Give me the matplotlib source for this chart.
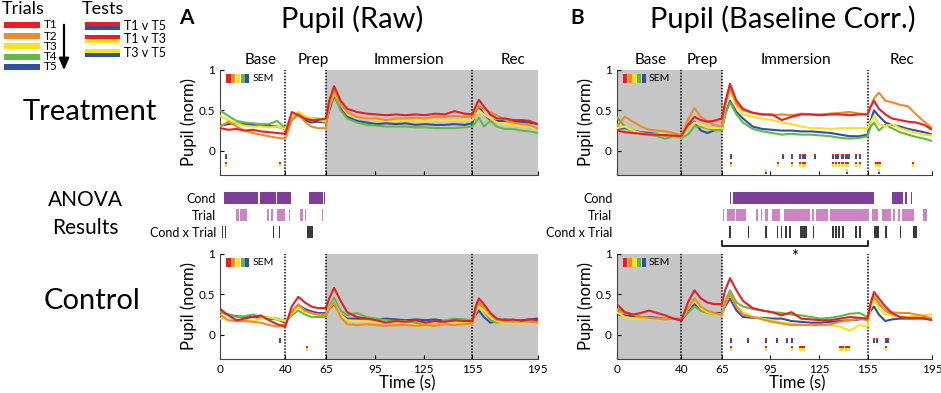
import matplotlib
matplotlib.use("Agg")
import matplotlib.pyplot as plt
from matplotlib.patches import Rectangle

plt.rcParams['font.family'] = ['Lato', 'DejaVu Sans']

# ---- data ----
t = [0, 5, 10, 15, 20, 25, 30, 35, 40,
     44, 48, 52, 56, 60, 65,
     67, 70, 74, 78, 84, 90, 96, 102, 108, 114, 120, 126, 132, 138, 144, 150, 155,
     157, 159, 162, 166, 170, 175, 180, 185, 190, 195]

trial_names = ["T1", "T2", "T3", "T4", "T5"]
trial_colors = ["#ec1c24", "#f08a24", "#f9e11b", "#5fba46", "#2e4fa3"]

# Treatment, raw
treat_raw = [
    [0.28, 0.26, 0.27, 0.25, 0.26, 0.24, 0.23, 0.22, 0.21,
     0.48, 0.44, 0.40, 0.38, 0.38, 0.40,
     0.62, 0.80, 0.62, 0.52, 0.48, 0.46, 0.45, 0.44, 0.45, 0.44, 0.45, 0.44, 0.46, 0.45, 0.49, 0.46, 0.45,
     0.55, 0.63, 0.55, 0.45, 0.40, 0.40, 0.38, 0.38, 0.37, 0.33],
    [0.30, 0.36, 0.30, 0.25, 0.22, 0.20, 0.18, 0.16, 0.15,
     0.38, 0.46, 0.36, 0.30, 0.28, 0.28,
     0.55, 0.75, 0.58, 0.48, 0.42, 0.40, 0.40, 0.38, 0.40, 0.40, 0.41, 0.40, 0.42, 0.42, 0.43, 0.42, 0.42,
     0.50, 0.55, 0.52, 0.48, 0.44, 0.38, 0.35, 0.33, 0.32, 0.28],
    [0.43, 0.38, 0.34, 0.31, 0.30, 0.30, 0.29, 0.30, 0.27,
     0.42, 0.48, 0.43, 0.40, 0.38, 0.36,
     0.55, 0.72, 0.58, 0.46, 0.42, 0.40, 0.38, 0.37, 0.37, 0.38, 0.37, 0.36, 0.38, 0.37, 0.38, 0.38, 0.38,
     0.45, 0.50, 0.45, 0.40, 0.35, 0.33, 0.33, 0.30, 0.30, 0.27],
    [0.50, 0.43, 0.37, 0.35, 0.34, 0.33, 0.33, 0.37, 0.28,
     0.40, 0.45, 0.43, 0.40, 0.40, 0.37,
     0.52, 0.70, 0.50, 0.40, 0.35, 0.32, 0.31, 0.30, 0.30, 0.30, 0.29, 0.29, 0.28, 0.28, 0.28, 0.29, 0.30,
     0.35, 0.41, 0.30, 0.37, 0.30, 0.27, 0.27, 0.25, 0.24, 0.22],
    [0.31, 0.33, 0.34, 0.33, 0.32, 0.32, 0.31, 0.30, 0.27,
     0.38, 0.45, 0.38, 0.35, 0.36, 0.35,
     0.50, 0.68, 0.52, 0.42, 0.37, 0.35, 0.33, 0.34, 0.33, 0.34, 0.32, 0.33, 0.32, 0.32, 0.33, 0.32, 0.34,
     0.48, 0.55, 0.45, 0.38, 0.37, 0.37, 0.36, 0.36, 0.35, 0.33],
]

# Control, raw
ctrl_raw = [
    [0.32, 0.24, 0.18, 0.20, 0.22, 0.24, 0.18, 0.13, 0.10,
     0.35, 0.47, 0.40, 0.35, 0.33, 0.33,
     0.45, 0.58, 0.42, 0.28, 0.22, 0.20, 0.18, 0.15, 0.17, 0.16, 0.18, 0.15, 0.17, 0.16, 0.18, 0.17, 0.17,
     0.35, 0.45, 0.38, 0.27, 0.20, 0.18, 0.19, 0.17, 0.19, 0.18],
    [0.25, 0.18, 0.17, 0.17, 0.16, 0.15, 0.12, 0.10, 0.13,
     0.28, 0.38, 0.30, 0.27, 0.25, 0.24,
     0.32, 0.40, 0.22, 0.13, 0.12, 0.13, 0.12, 0.11, 0.12, 0.12, 0.11, 0.12, 0.11, 0.13, 0.12, 0.13, 0.14,
     0.30, 0.40, 0.35, 0.25, 0.18, 0.17, 0.16, 0.17, 0.16, 0.15],
    [0.20, 0.18, 0.17, 0.17, 0.17, 0.20, 0.22, 0.19, 0.17,
     0.26, 0.34, 0.28, 0.26, 0.25, 0.25,
     0.33, 0.40, 0.25, 0.18, 0.17, 0.17, 0.16, 0.16, 0.15, 0.14, 0.12, 0.10, 0.13, 0.12, 0.14, 0.15, 0.13,
     0.28, 0.35, 0.30, 0.22, 0.17, 0.15, 0.15, 0.16, 0.15, 0.14],
    [0.28, 0.25, 0.22, 0.23, 0.25, 0.22, 0.21, 0.20, 0.17,
     0.24, 0.30, 0.25, 0.22, 0.22, 0.22,
     0.35, 0.46, 0.30, 0.24, 0.27, 0.22, 0.20, 0.18, 0.17, 0.17, 0.15, 0.11, 0.12, 0.18, 0.20, 0.19, 0.18,
     0.30, 0.38, 0.30, 0.18, 0.15, 0.17, 0.17, 0.16, 0.16, 0.15],
    [0.28, 0.25, 0.23, 0.22, 0.22, 0.21, 0.20, 0.19, 0.15,
     0.28, 0.37, 0.32, 0.29, 0.27, 0.27,
     0.32, 0.38, 0.25, 0.20, 0.20, 0.20, 0.19, 0.20, 0.19, 0.18, 0.19, 0.18, 0.19, 0.17, 0.18, 0.18, 0.17,
     0.25, 0.30, 0.22, 0.15, 0.17, 0.19, 0.18, 0.18, 0.19, 0.20],
]

# Treatment, baseline corrected
treat_bc = [
    [0.25, 0.23, 0.22, 0.21, 0.20, 0.20, 0.19, 0.19, 0.18,
     0.32, 0.42, 0.38, 0.36, 0.37, 0.40,
     0.60, 0.83, 0.62, 0.52, 0.47, 0.45, 0.45, 0.38, 0.42, 0.45, 0.45, 0.44, 0.45, 0.45, 0.44, 0.45, 0.45,
     0.55, 0.62, 0.52, 0.45, 0.40, 0.38, 0.36, 0.35, 0.32, 0.26],
    [0.30, 0.42, 0.36, 0.30, 0.26, 0.25, 0.24, 0.22, 0.19,
     0.38, 0.53, 0.42, 0.37, 0.32, 0.30,
     0.55, 0.78, 0.58, 0.50, 0.47, 0.45, 0.44, 0.45, 0.44, 0.46, 0.45, 0.45, 0.46, 0.47, 0.48, 0.46, 0.45,
     0.55, 0.65, 0.72, 0.62, 0.60, 0.57, 0.55, 0.45, 0.36, 0.28],
    [0.28, 0.30, 0.25, 0.22, 0.20, 0.21, 0.22, 0.20, 0.17,
     0.28, 0.35, 0.32, 0.29, 0.28, 0.28,
     0.55, 0.75, 0.55, 0.45, 0.42, 0.40, 0.38, 0.35, 0.33, 0.30, 0.28, 0.28, 0.27, 0.28, 0.28, 0.28, 0.28,
     0.36, 0.43, 0.33, 0.30, 0.33, 0.28, 0.25, 0.22, 0.20, 0.19],
    [0.42, 0.30, 0.24, 0.21, 0.20, 0.18, 0.15, 0.18, 0.16,
     0.20, 0.30, 0.30, 0.28, 0.26, 0.25,
     0.45, 0.60, 0.45, 0.35, 0.27, 0.24, 0.22, 0.20, 0.21, 0.20, 0.20, 0.19, 0.18, 0.16, 0.15, 0.16, 0.18,
     0.30, 0.35, 0.25, 0.32, 0.28, 0.23, 0.20, 0.17, 0.15, 0.12],
    [0.27, 0.28, 0.25, 0.23, 0.22, 0.21, 0.20, 0.20, 0.18,
     0.30, 0.36, 0.25, 0.22, 0.25, 0.27,
     0.45, 0.62, 0.48, 0.40, 0.30, 0.27, 0.26, 0.25, 0.25, 0.24, 0.24, 0.23, 0.22, 0.20, 0.18, 0.18, 0.20,
     0.38, 0.50, 0.43, 0.35, 0.32, 0.30, 0.27, 0.25, 0.23, 0.20],
]

# Control, baseline corrected
ctrl_bc = [
    [0.38, 0.28, 0.25, 0.27, 0.30, 0.27, 0.24, 0.20, 0.18,
     0.40, 0.55, 0.45, 0.40, 0.38, 0.38,
     0.55, 0.70, 0.55, 0.42, 0.33, 0.30, 0.28, 0.24, 0.28, 0.20, 0.19, 0.18, 0.18, 0.20, 0.22, 0.21, 0.20,
     0.40, 0.53, 0.45, 0.35, 0.27, 0.22, 0.21, 0.21, 0.20, 0.18],
    [0.30, 0.27, 0.25, 0.22, 0.21, 0.20, 0.19, 0.20, 0.20,
     0.33, 0.45, 0.35, 0.30, 0.27, 0.25,
     0.38, 0.50, 0.35, 0.25, 0.22, 0.19, 0.16, 0.14, 0.12, 0.12, 0.12, 0.12, 0.13, 0.16, 0.18, 0.20, 0.18,
     0.38, 0.47, 0.40, 0.30, 0.28, 0.27, 0.27, 0.25, 0.23, 0.20],
    [0.28, 0.22, 0.20, 0.20, 0.20, 0.19, 0.20, 0.20, 0.20,
     0.32, 0.42, 0.33, 0.28, 0.26, 0.25,
     0.38, 0.50, 0.35, 0.28, 0.22, 0.20, 0.18, 0.15, 0.14, 0.13, 0.12, 0.12, 0.12, 0.10, 0.05, 0.12, 0.10,
     0.35, 0.45, 0.33, 0.25, 0.24, 0.22, 0.22, 0.23, 0.24, 0.25],
    [0.32, 0.28, 0.25, 0.22, 0.21, 0.20, 0.20, 0.21, 0.20,
     0.27, 0.35, 0.30, 0.27, 0.26, 0.25,
     0.42, 0.55, 0.40, 0.35, 0.32, 0.30, 0.28, 0.27, 0.25, 0.24, 0.22, 0.20, 0.21, 0.23, 0.26, 0.27, 0.22,
     0.38, 0.48, 0.38, 0.30, 0.25, 0.22, 0.21, 0.20, 0.20, 0.20],
    [0.25, 0.24, 0.23, 0.22, 0.22, 0.21, 0.20, 0.20, 0.18,
     0.28, 0.38, 0.30, 0.28, 0.27, 0.27,
     0.35, 0.45, 0.30, 0.22, 0.21, 0.21, 0.20, 0.20, 0.17, 0.16, 0.15, 0.15, 0.16, 0.17, 0.18, 0.19, 0.20,
     0.30, 0.35, 0.25, 0.17, 0.19, 0.20, 0.20, 0.20, 0.21, 0.20],
]

# significant time points (T1 v T5, T1 v T3, T3 v T5)
sig_treat_raw = [[3.6], [3.6, 36.8], []]
sig_ctrl_raw = [[36.8], [53.2], []]
sig_treat_bc = [[70.4, 102.6, 108.5, 113.5, 115, 116.4, 122.6, 133.5, 135.5, 137, 139.5, 141.5, 143.2, 147.9, 150.2],
                [70.4, 99.5, 108.5, 113.5, 115, 116.5, 133.5, 135.5, 137.5, 139.5, 141.5, 143, 147.9, 150.2,
                 160.3, 161.5, 162.7, 183.3],
                [92.1, 142.1, 162.3]]
sig_ctrl_bc = [[70.4, 81.0, 92.1, 99.3, 105.5, 108.5, 159.0, 161.1, 166.4, 167.7],
               [70.4, 92.1, 108.5, 113.3, 114.5, 115.8, 138, 139, 140.1, 141.5, 142.5, 143.6, 166.4],
               []]
test_names = ["T1 v T5", "T1 v T3", "T3 v T5"]
test_colors = [("#ec1c24", "#2e4fa3"), ("#ec1c24", "#f9e11b"), ("#f9e11b", "#2e4fa3")]

# ANOVA significant intervals (start, end) in s
anova_raw = {
    "Cond": [(2.5, 23.4), (24.3, 34.1), (35.1, 43.7), (54.4, 63.0), (64.0, 64.7)],
    "Trial": [(9.5, 11.6), (12.2, 16.3), (28.8, 30.0), (31.0, 32.6), (35.1, 39.8), (42.3, 42.9),
              (49.0, 51.0), (52.1, 52.7), (62.4, 63.0)],
    "Cond x Trial": [(1.3, 1.9), (3.1, 3.6), (32.3, 32.8), (36.1, 36.7), (53.2, 57.2)],
}
anova_bc = {
    "Cond": [(70.0, 70.6), (72.1, 159.0), (170.0, 177.1), (178.2, 179.1), (181.7, 182.5)],
    "Trial": [(65.9, 66.5), (68.0, 72.9), (73.5, 79.7), (86.1, 87.3), (89.0, 90.0), (91.7, 93.7),
              (96.0, 100.9), (103.4, 119.5), (120.9, 121.9), (123.2, 130.8), (132.1, 156.1),
              (157.6, 161.7), (164.2, 169.5), (171.0, 172.0), (173.7, 175.1), (176.1, 183.7),
              (189.5, 192.0)],
    "Cond x Trial": [(69.6, 70.4), (80.9, 81.7), (91.9, 92.7), (98.9, 99.7), (101.6, 102.4),
                     (104.2, 105.0), (106.7, 107.5), (113.3, 117.8), (121.1, 121.9), (133.3, 134.3),
                     (135.1, 136.1), (137.0, 138.2), (139.5, 140.7), (147.5, 148.3), (150.0, 150.8),
                     (159.0, 162.3), (165.8, 167.2), (175.1, 175.9), (183.3, 185.8)],
}
anova_colors = {"Cond": "#7d3f98", "Trial": "#cc85c3", "Cond x Trial": "#3b3b3b"}

phase_edges = [40, 65, 155]
phase_names = ["Base", "Prep", "Immersion", "Rec"]
phase_pos_raw = [25, 57, 116, 180]
phase_pos_bc = [21, 53, 111, 176]
xticks = [0, 40, 65, 95, 125, 155, 195]

# ---- figure ----
W, H = 941, 393
fig = plt.figure(figsize=(W / 100, H / 100), dpi=100)


def px_axes(x0, y0, x1, y1):
    return fig.add_axes([x0 / W, 1 - y1 / H, (x1 - x0) / W, (y1 - y0) / H])


def pupil_panel(ax, series, sig, shade, phase_pos=None, bottom=False):
    ax.axvspan(shade[0], shade[1], color="#c6c6c6", lw=0, zorder=0)
    for e in phase_edges:
        ax.axvline(e, color="k", ls=(0, (1, 1)), lw=1.1, zorder=1)
    for i in range(4, -1, -1):
        ax.plot(t, series[i], color=trial_colors[i], lw=1.5, zorder=3 + (4 - i))
    rows = [-0.07, -0.165, -0.26]
    for k, times in enumerate(sig):
        ctop, cbot = test_colors[k]
        ax.bar(times, 0.03, width=1.3, bottom=rows[k], color=ctop, lw=0, zorder=2)
        ax.bar(times, 0.03, width=1.3, bottom=rows[k] - 0.03, color=cbot, lw=0, zorder=2)
    ax.set_xlim(0, 195)
    ax.set_ylim(-0.3, 1)
    ax.set_yticks([0, 0.5, 1])
    ax.set_yticklabels(["0", "0.5", "1"])
    ax.set_xticks(xticks)
    ax.tick_params(direction="in", length=3, labelsize=8.5, width=0.8)
    for s in ["top", "right"]:
        ax.spines[s].set_visible(False)
    for s in ["left", "bottom"]:
        ax.spines[s].set_color("#444444")
    ax.set_ylabel("Pupil (norm)", fontsize=12, labelpad=1)
    if bottom:
        ax.set_xlabel("Time (s)", fontsize=12, labelpad=0)
    else:
        ax.set_xticklabels([])
    if phase_pos is not None:
        for name, p in zip(phase_names, phase_pos):
            ax.text(p, 1.03, name, transform=ax.get_xaxis_transform(), ha="center",
                    va="bottom", fontsize=11)


def anova_panel(ax, data):
    names = list(data.keys())
    for i, name in enumerate(names):
        ax.broken_barh([(a, b - a) for a, b in data[name]], (i - 0.36, 0.72),
                       color=anova_colors[name], lw=0)
    ax.set_xlim(0, 195)
    ax.set_ylim(2.5, -0.5)
    ax.set_yticks(range(len(names)))
    ax.set_yticklabels(names, fontsize=9)
    ax.set_xticks([])
    ax.tick_params(length=0, pad=3)
    for s in ax.spines.values():
        s.set_visible(False)
    ax.patch.set_alpha(0)


ax1 = px_axes(220.2, 70, 537.5, 175)
pupil_panel(ax1, treat_raw, sig_treat_raw, (65, 195), phase_pos_raw)
ax2 = px_axes(220.2, 254, 537.5, 359)
pupil_panel(ax2, ctrl_raw, sig_ctrl_raw, (65, 195), bottom=True)
ax3 = px_axes(616.7, 70, 932.3, 175)
pupil_panel(ax3, treat_bc, sig_treat_bc, (0, 65), phase_pos_bc)
ax4 = px_axes(616.7, 254, 932.3, 359)
pupil_panel(ax4, ctrl_bc, sig_ctrl_bc, (0, 65), bottom=True)
ax2.xaxis.set_label_coords(0.588, -0.155)
ax4.xaxis.set_label_coords(0.573, -0.155)

an1 = px_axes(220.2, 189.3, 537.5, 240.3)
anova_panel(an1, anova_raw)
an2 = px_axes(616.7, 189.3, 932.3, 240.3)
anova_panel(an2, anova_bc)
an2.plot([65, 65, 155, 155], [2.55, 2.82, 2.82, 2.55], color="k", lw=1.2, clip_on=False)
an2.text(110, 3.5, "*", ha="center", va="center", fontsize=12, clip_on=False)

# ---- overlay: titles, labels and key (pixel coords) ----
ov = fig.add_axes([0, 0, 1, 1])
ov.set_xlim(0, W)
ov.set_ylim(H, 0)
ov.axis("off")

ov.text(352, 19, "Pupil (Raw)", ha="center", va="center", fontsize=21)
ov.text(783, 19, "Pupil (Baseline Corr.)", ha="center", va="center", fontsize=21)
ov.text(186, 18, "A", ha="center", va="center", fontsize=15, fontweight="bold")
ov.text(577, 18, "B", ha="center", va="center", fontsize=15, fontweight="bold")
ov.text(90, 112, "Treatment", ha="center", va="center", fontsize=21)
ov.text(85, 200, "ANOVA", ha="center", va="center", fontsize=15)
ov.text(85, 228, "Results", ha="center", va="center", fontsize=15)
ov.text(92, 301, "Control", ha="center", va="center", fontsize=21)

ov.text(2, 9, "Trials", ha="left", va="center", fontsize=13)
ov.text(82, 9, "Tests", ha="left", va="center", fontsize=13)
trial_rows = [25, 36, 46, 56.5, 67]
for name, c, y in zip(trial_names, trial_colors, trial_rows):
    ov.add_patch(Rectangle((4, y - 3), 36, 6, color=c, lw=0))
    ov.text(44, y, name, ha="left", va="center", fontsize=8.5)
ov.annotate("", xy=(64, 73), xytext=(64, 22),
            arrowprops=dict(arrowstyle="-|>,head_width=0.3,head_length=0.7", color="k", lw=1.6))
test_rows = [26, 39, 53]
for name, (ctop, cbot), y in zip(test_names, test_colors, test_rows):
    ov.add_patch(Rectangle((85, y - 3.7), 35, 3.7, color=ctop, lw=0))
    ov.add_patch(Rectangle((85, y), 35, 3.7, color=cbot, lw=0))
    ov.text(124, y, name, ha="left", va="center", fontsize=9)

# SEM key in each pupil panel
for x0, y0 in [(226.5, 74), (226.5, 258), (623, 74), (623, 258)]:
    for k, c in enumerate(trial_colors):
        ov.add_patch(Rectangle((x0 + k * 4.7, y0), 4.2, 9, color=c, lw=0))
    ov.text(x0 + 26, y0 + 4.5, "SEM", ha="left", va="center", fontsize=7.5)

fig.savefig("out.png", dpi=100)
